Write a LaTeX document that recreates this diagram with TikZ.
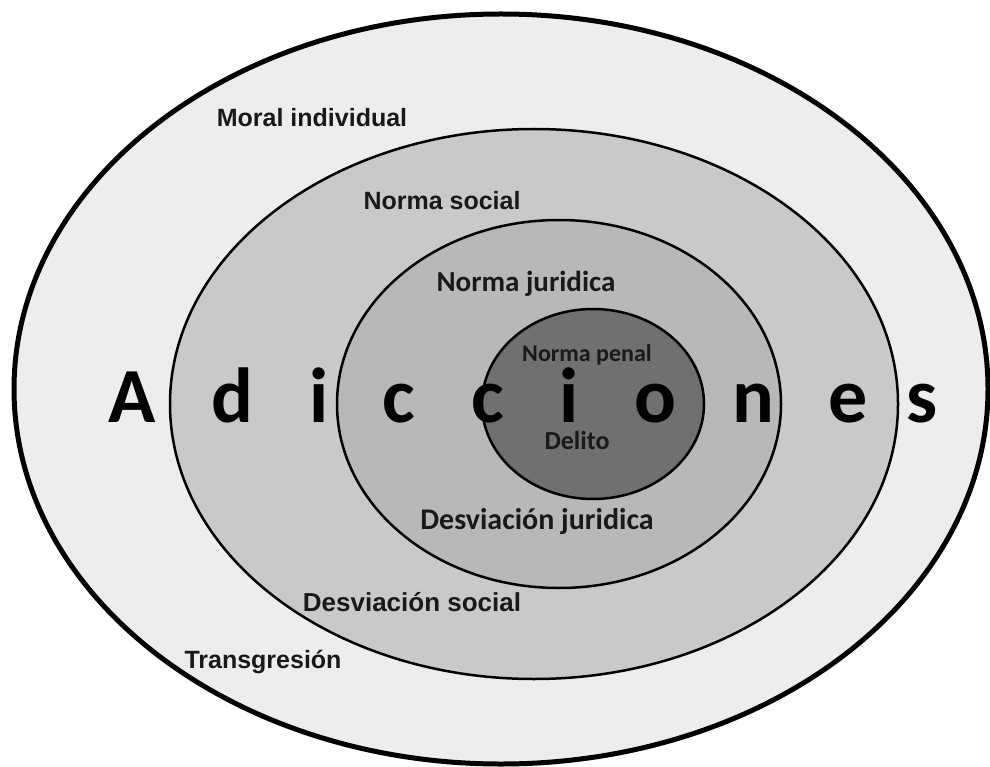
\documentclass[tikz,border=0pt]{standalone}
\usepackage{fontspec}
\setmainfont{Carlito}
\newfontfamily\arialfont{Liberation Sans}
\definecolor{zonamoral}{gray}{0.93}
\definecolor{zonasocial}{gray}{0.79}
\definecolor{zonajuridica}{gray}{0.72}
\definecolor{zonapenal}{gray}{0.44}
\definecolor{tinta}{gray}{0.1}

\begin{document}
\begin{tikzpicture}[x=1pt, y=-1pt,
    aro/.style={draw=black, line width=2.5pt},
    etiq/.style={font=\arialfont\bfseries\fontsize{25}{25}\selectfont, text=tinta, anchor=base, inner sep=0pt},
    etiqc/.style={font=\bfseries\fontsize{#1}{#1}\selectfont, text=tinta, anchor=base, inner sep=0pt},
    letra/.style={font=\bfseries\fontsize{78}{78}\selectfont, text=black, anchor=base, inner sep=0pt}]
    \useasboundingbox (0,0) rectangle (990,767);
    \fill[white] (0,0) rectangle (990,767);
    % anillos
    \draw[aro, line width=5pt, fill=zonamoral](501,389)ellipse[x radius=487, y radius=375];
    \draw[aro, fill=zonasocial](534,404)ellipse[x radius=364, y radius=275];
    \draw[aro, fill=zonajuridica](559,404)ellipse[x radius=222, y radius=184];
    \draw[aro, fill=zonapenal](593,404)ellipse[x radius=111, y radius=95];
    % textos
    \node[etiq] (moral) at (312,127) {Moral individual};
    \node[etiq] (nsocial) at (442,210) {Norma social};
    \node[etiqc=29] (njuridica) at (526,291) {Norma juridica};
    \node[etiqc=24] (npenal) at (587,361) {Norma penal};
    \node[etiqc=26] (delito) at (577,449) {Delito};
    \node[etiqc=30] (djuridica) at (537,529) {Desviación juridica};
    \node[etiq, font=\arialfont\bfseries\fontsize{26}{26}\selectfont] (dsocial) at (412,611) {Desviación social};
    \node[etiq] (transg) at (263,668) {Transgresión};
    \foreach \x/\l [count=\i] in {132/A,232/d,319/i,399/c,488/c,569/i,655/o,753/n,848/e,922/s}
        \node[letra] (letra\i) at (\x,422) {\l};
\end{tikzpicture}
\end{document}
